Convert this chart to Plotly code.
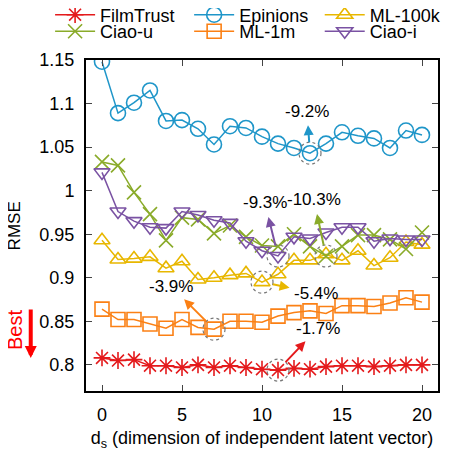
import plotly.graph_objects as go

# ---------------------------------------------------------------------------
# data
# ---------------------------------------------------------------------------
ds = list(range(21))

film_trust = [0.808, 0.805, 0.806, 0.799, 0.799, 0.797, 0.800, 0.797, 0.799, 0.797, 0.795,
              0.794, 0.796, 0.795, 0.798, 0.799, 0.799, 0.798, 0.799, 0.800, 0.800]
epinions = [1.148, 1.089, 1.101, 1.115, 1.080, 1.081, 1.071, 1.053, 1.074, 1.072, 1.062,
            1.054, 1.049, 1.043, 1.054, 1.067, 1.063, 1.060, 1.049, 1.069, 1.064]
ml_100k = [0.943, 0.921, 0.922, 0.924, 0.911, 0.919, 0.898, 0.900, 0.903, 0.905, 0.895,
           0.904, 0.920, 0.920, 0.927, 0.920, 0.931, 0.914, 0.923, 0.941, 0.938]
ciao_u = [1.033, 1.029, 0.998, 0.973, 0.943, 0.969, 0.967, 0.951, 0.960, 0.947, 0.937,
          0.936, 0.950, 0.936, 0.925, 0.936, 0.949, 0.949, 0.944, 0.933, 0.952]
ml_1m = [0.864, 0.852, 0.852, 0.847, 0.842, 0.852, 0.843, 0.841, 0.850, 0.850, 0.849,
         0.856, 0.860, 0.862, 0.859, 0.868, 0.868, 0.867, 0.871, 0.877, 0.872]
ciao_i = [1.021, 0.976, 0.965, 0.958, 0.957, 0.976, 0.972, 0.966, 0.963, 0.942, 0.931,
          0.925, 0.947, 0.945, 0.952, 0.958, 0.958, 0.942, 0.945, 0.944, 0.944]

names = ["FilmTrust", "Epinions", "ML-100k", "Ciao-u", "ML-1m", "Ciao-i"]
series = [film_trust, epinions, ml_100k, ciao_u, ml_1m, ciao_i]

# best point of each series that gets a dotted circle + arrow, with its label
best_index = [11, 13, 10, 14, 7, 11]
best_label = ["-1.7%", "-9.2%", "-5.4%", "-10.3%", "-3.9%", "-9.3%"]

x_ticks = [0, 5, 10, 15, 20]
y_ticks = [0.8, 0.85, 0.9, 0.95, 1.0, 1.05, 1.1, 1.15]
y_tick_text = ["0.8", "0.85", "0.9", "0.95", "1", "1.05", "1.1", "1.15"]

# ---------------------------------------------------------------------------
# style
# ---------------------------------------------------------------------------
colors = ["#e41a1c", "#1f96c9", "#e8b700", "#8aab2a", "#fb8014", "#7a52a3"]
symbols = ["asterisk-open", "circle-open", "triangle-up-open", "x-thin-open", "square-open", "triangle-down-open"]
sizes = [14, 15, 14, 14, 14, 14]
# text offset (pixels) from the circled point, per series
label_offsets = [(40, -42), (-3, -42), (54, 11), (-12, -56), (-43, -43), (-13, -53)]

FONT = "Liberation Sans"

fig = go.Figure()

legend_ids = ["legend", "legend2", "legend3", "legend4", "legend5", "legend6"]
legend_pos = [(-0.102, 1.136), (0.293, 1.136), (0.664, 1.136),
              (-0.102, 1.086), (0.293, 1.086), (0.664, 1.086)]

for name, ys, c, sym, sz, leg in zip(names, series, colors, symbols, sizes, legend_ids):
    fig.add_trace(go.Scatter(
        x=ds, y=ys, mode="lines+markers", name=name, legend=leg,
        line=dict(color=c, width=1.5),
        marker=dict(symbol=sym, size=sz, color=c, line=dict(color=c, width=1.6)),
        hoverinfo="skip",
    ))

shapes = []
annotations = []
for ys, c, idx, lab, (ox, oy) in zip(series, colors, best_index, best_label, label_offsets):
    shapes.append(dict(
        type="circle", xref="x", yref="y", xsizemode="pixel", ysizemode="pixel",
        xanchor=ds[idx], yanchor=ys[idx], x0=-11, x1=11, y0=-11, y1=11,
        line=dict(color="#777777", width=1.2, dash="dot"),
    ))
    annotations.append(dict(
        x=ds[idx], y=ys[idx], xref="x", yref="y", text=lab, showarrow=True,
        ax=ox, ay=oy, arrowside="start", startarrowhead=2, startarrowsize=1,
        arrowcolor=c, arrowwidth=2, standoff=11, startstandoff=3,
        font=dict(size=17, color="black", family=FONT),
    ))

# y title and "Best" marker
annotations.append(dict(x=-0.202, y=0.5, xref="paper", yref="paper", text="RMSE",
                        xanchor="center", yanchor="middle",
                        textangle=-90, showarrow=False, font=dict(size=17, color="black", family=FONT)))
annotations.append(dict(x=-0.202, y=0.184, xref="paper", yref="paper", text="Best",
                        xanchor="center", yanchor="middle",
                        textangle=-90, showarrow=False, font=dict(size=20, color="red", family=FONT)))
annotations.append(dict(x=-0.157, y=0.10, xref="paper", yref="paper", text="", showarrow=True,
                        ax=0, ay=-50, arrowcolor="red", arrowwidth=4, arrowhead=2, arrowsize=0.6))

layout_legends = {}
for leg, (lx, ly) in zip(legend_ids, legend_pos):
    layout_legends[leg] = dict(x=lx, y=ly, xanchor="left", yanchor="middle", itemwidth=40,
                               bgcolor="rgba(0,0,0,0)", font=dict(size=18, color="black", family=FONT))

# the page body adds an 8px offset, so the margins are shifted to compensate
fig.update_layout(
    width=450, height=453,
    margin=dict(l=78, r=20, t=52, b=70, autoexpand=False),
    plot_bgcolor="white", paper_bgcolor="white",
    font=dict(family=FONT, color="black"),
    showlegend=True,
    shapes=shapes, annotations=annotations,
    **layout_legends,
)
fig.update_xaxes(
    range=[-1, 21], tickvals=x_ticks, ticks="inside", ticklen=6, tickwidth=1.2,
    showline=True, linewidth=2, linecolor="black", mirror="ticks", showgrid=False, zeroline=False,
    tickfont=dict(size=18), ticklabelstandoff=6,
    title=dict(text="d<sub>s</sub> (dimension of independent latent vector)", font=dict(size=18), standoff=8),
)
fig.update_yaxes(
    range=[0.77, 1.15], tickvals=y_ticks, ticktext=y_tick_text, ticks="inside", ticklen=6, tickwidth=1.2,
    showline=True, linewidth=2, linecolor="black", mirror="ticks", showgrid=False, zeroline=False,
    tickfont=dict(size=18), ticklabelstandoff=6,
)

fig.write_html("out.html")
